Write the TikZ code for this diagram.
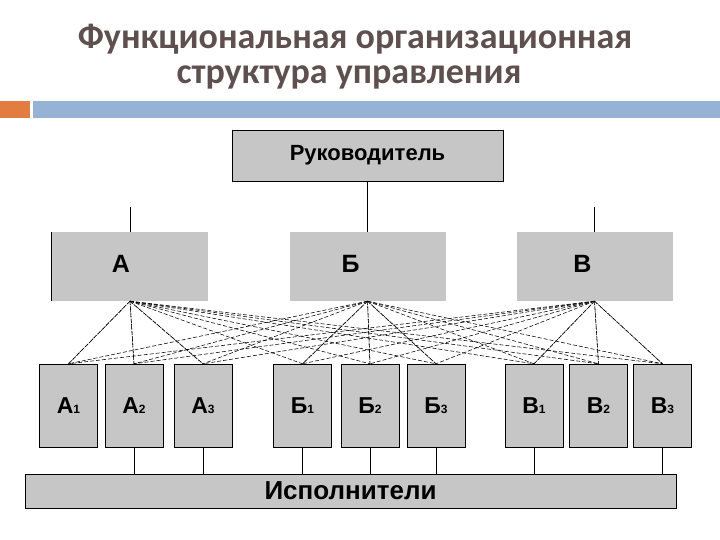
\documentclass[tikz,border=0pt]{standalone}
\usepackage{fontspec}
\setmainfont{Liberation Sans}
\newfontfamily\titlefont{Carlito}
\definecolor{boxgray}{RGB}{198,198,198}
\definecolor{titlebrown}{RGB}{94,80,78}
\definecolor{barorange}{RGB}{226,124,64}
\definecolor{barblue}{RGB}{150,178,212}
\begin{document}
\begin{tikzpicture}[
    x=1pt, y=-1pt,
    title/.style={font=\titlefont\bfseries\fontsize{36}{40}\selectfont, text=titlebrown, anchor=base},
    headbox/.style={rectangle, draw, fill=boxgray, inner sep=0pt, minimum width=271pt, minimum height=51pt, font=\bfseries\fontsize{22}{26}\selectfont},
    dept/.style={rectangle, fill=boxgray, inner sep=0pt, minimum width=156pt, minimum height=69pt},
    deptlabel/.style={font=\bfseries\fontsize{25}{28}\selectfont, xshift=-12pt, yshift=3pt},
    unit/.style={rectangle, draw, fill=boxgray, inner sep=0pt, minimum width=58pt, minimum height=83pt, font=\bfseries\fontsize{23}{26}\selectfont},
    link/.style={line width=0.8pt},
    cross/.style={line width=0.55pt, dash pattern=on 4pt off 2pt},
    own/.style={line width=0.55pt, dash pattern=on 1.5pt off 1pt}
]
    \useasboundingbox (0,0) rectangle (720,540);
    \newcommand{\sub}[1]{{\fontsize{12}{13}\selectfont#1}}

    % title and header bars
    \node[title] (t1) at (355,49) {Функциональная организационная};
    \node[title] (t2) at (349,84) {структура управления};
    \fill[barorange] (0,101) rectangle (30,118);
    \fill[barblue] (33,101) rectangle (720,118);

    \node[headbox] (head) at (367.5,155.5) {Руководитель};

    \node[dept, label={[deptlabel, xshift=3pt]center:А}] (A) at (130,266.5) {};
    \node[dept, label={[deptlabel, xshift=-5pt]center:Б}] (B) at (367.5,266.5) {};
    \node[dept, label={[deptlabel]center:В}] (V) at (594.5,266.5) {};

    \node[unit] (A1) at (68.5,405.5) {А\sub{1}};
    \node[unit] (A2) at (134,405.5) {А\sub{2}};
    \node[unit] (A3) at (203,405.5) {А\sub{3}};
    \node[unit] (B1) at (302.5,405.5) {Б\sub{1}};
    \node[unit] (B2) at (370,405.5) {Б\sub{2}};
    \node[unit] (B3) at (436,405.5) {Б\sub{3}};
    \node[unit] (V1) at (534,405.5) {В\sub{1}};
    \node[unit] (V2) at (598.5,405.5) {В\sub{2}};
    \node[unit] (V3) at (662.5,405.5) {В\sub{3}};

    \node[headbox, minimum width=651pt, minimum height=34pt, font=\bfseries\fontsize{26}{30}\selectfont] (staff) at (350.5,491) {Исполнители};

    \draw[link] (head) -- (B);
    \draw[link] (A.north) -- ++(0,-25);
    \draw[link] (V.north) -- ++(0,-25);
    \draw[link] (A.north west) -- (A.south west);

    % every function reaches every unit
    \foreach \d in {A,B,V}
        \foreach \u in {A1,A2,A3,B1,B2,B3,V1,V2,V3}
            \draw[cross] (\d.south) -- (\u.north);
    \foreach \d in {A,B,V}
        \foreach \n in {1,2,3}
            \draw[own] (\d.south) -- (\d\n.north);

    \foreach \u in {A2,A3,B1,B2,B3,V1,V3}
        \draw[link] (\u.south) -- (\u.south |- staff.north);
\end{tikzpicture}
\end{document}
